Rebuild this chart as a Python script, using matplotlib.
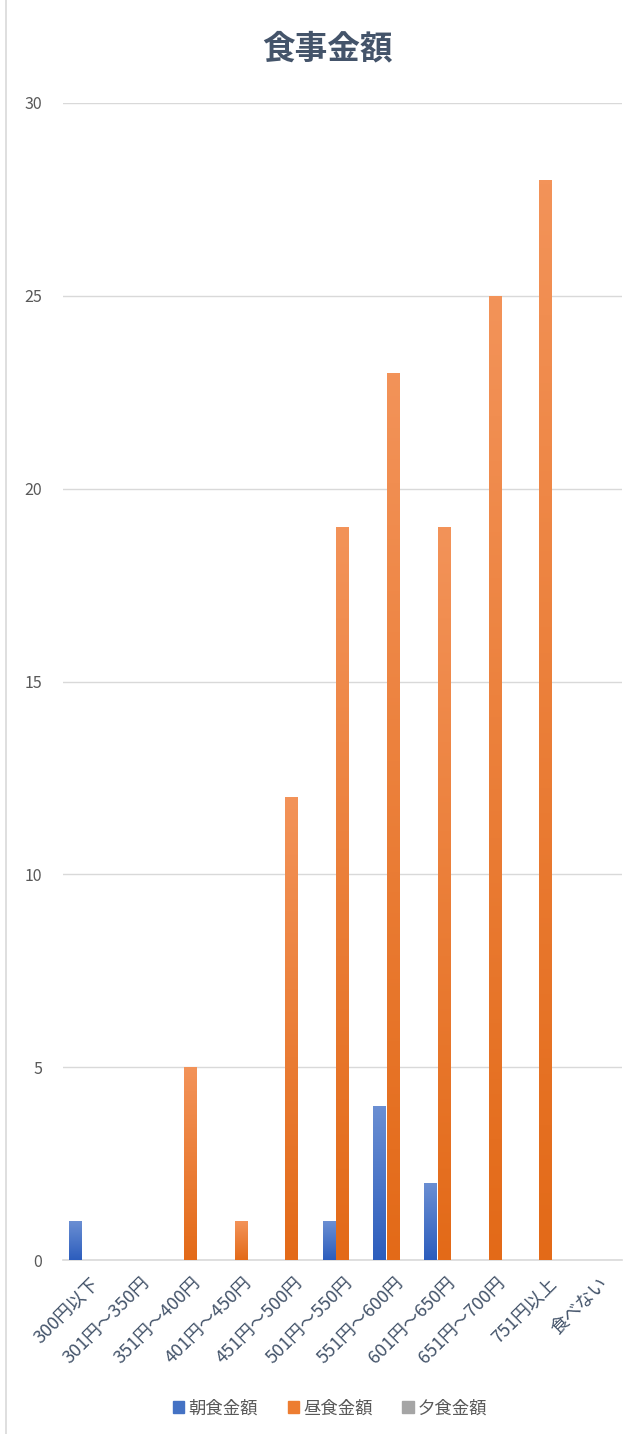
import numpy as np
import matplotlib
matplotlib.use("Agg")
import matplotlib.pyplot as plt
from matplotlib.colors import LinearSegmentedColormap
from matplotlib.patches import Rectangle
from matplotlib.lines import Line2D
from matplotlib.transforms import ScaledTranslation

plt.rcParams['font.family'] = ['Noto Sans CJK JP', 'DejaVu Sans']

# データ
categories = ["300円以下", "301円～350円", "351円～400円", "401円～450円", "451円～500円",
              "501円～550円", "551円～600円", "601円～650円", "651円～700円", "751円以上", "食べない"]
breakfast = [1, 0, 0, 0, 0, 1, 4, 2, 0, 0, 0]
lunch = [0, 0, 5, 1, 12, 19, 23, 19, 25, 28, 0]
dinner = [0, 0, 0, 0, 0, 0, 0, 0, 0, 0, 0]
series_names = ["朝食金額", "昼食金額", "夕食金額"]
yticks = [0, 5, 10, 15, 20, 25, 30]

# グラデーション（上が明るい、下が濃い）
colors = [("#6b8fd3", "#2c5dbd", "#4472c4"),
          ("#f39359", "#e36a18", "#ed7d31"),
          ("#bdbdbd", "#8a8a8a", "#a5a5a5")]

fig = plt.figure(figsize=(6.4, 14.34), dpi=100)
ax = fig.add_axes([0.0984, 0.1213, 0.873, 0.8069])

x = np.arange(len(categories))
bar_w = 0.24
offsets = [-0.27, 0.0, 0.27]
all_series = [breakfast, lunch, dinner]

for s, vals in enumerate(all_series):
    top_c, bot_c, solid = colors[s]
    cmap = LinearSegmentedColormap.from_list("g%d" % s, [bot_c, top_c])
    grad = np.linspace(0, 1, 256).reshape(-1, 1)
    for i, v in enumerate(vals):
        if v <= 0:
            continue
        left = x[i] + offsets[s] - bar_w / 2
        bar = ax.bar(x[i] + offsets[s], v, width=bar_w, color=solid, zorder=2)[0]
        im = ax.imshow(grad, cmap=cmap, aspect="auto", origin="lower",
                       extent=[left, left + bar_w, 0, v], zorder=3)
        im.set_clip_path(bar)

ax.set_xlim(-0.5, len(categories) - 0.5)
ax.set_ylim(0, 30)
ax.set_yticks(yticks)
ax.grid(axis="y", color="#d9d9d9", linewidth=1, zorder=0)
ax.set_axisbelow(True)
for sp in ["top", "right", "left"]:
    ax.spines[sp].set_visible(False)
ax.spines["bottom"].set_color("#d9d9d9")
ax.spines["bottom"].set_linewidth(1.2)
ax.tick_params(axis="y", length=0, pad=15, labelsize=11.5, labelcolor="#595959")
ax.tick_params(axis="x", length=0, pad=6, labelsize=13, labelcolor="#44546a")
ax.set_xticks(x)
ax.set_xticklabels(categories, rotation=45, ha="right", va="center", rotation_mode="anchor")
# ラベルを少し右下へずらす
shift = ScaledTranslation(8 / 100, -12 / 100, fig.dpi_scale_trans)
for lab in ax.get_xticklabels():
    lab.set_transform(lab.get_transform() + shift)

# タイトル
fig.text(0.511, 0.966, "食事金額", ha="center", va="center", fontsize=23.5,
         fontweight="bold", color="#44546a")

# 凡例
handles = [Rectangle((0, 0), 1, 1, color=c[2]) for c in colors]
fig.legend(handles, series_names, loc="center", bbox_to_anchor=(0.516, 0.018),
           ncol=3, frameon=False, fontsize=12.5, handlelength=0.65, handleheight=0.65,
           handletextpad=0.25, columnspacing=1.7, labelcolor="#595959")

# 外枠（左）
fig.lines.append(Line2D([0.009, 0.009], [0.0, 1.0], transform=fig.transFigure,
                        color="#d9d9d9", linewidth=1.2))

fig.savefig("out.png", dpi=100)
